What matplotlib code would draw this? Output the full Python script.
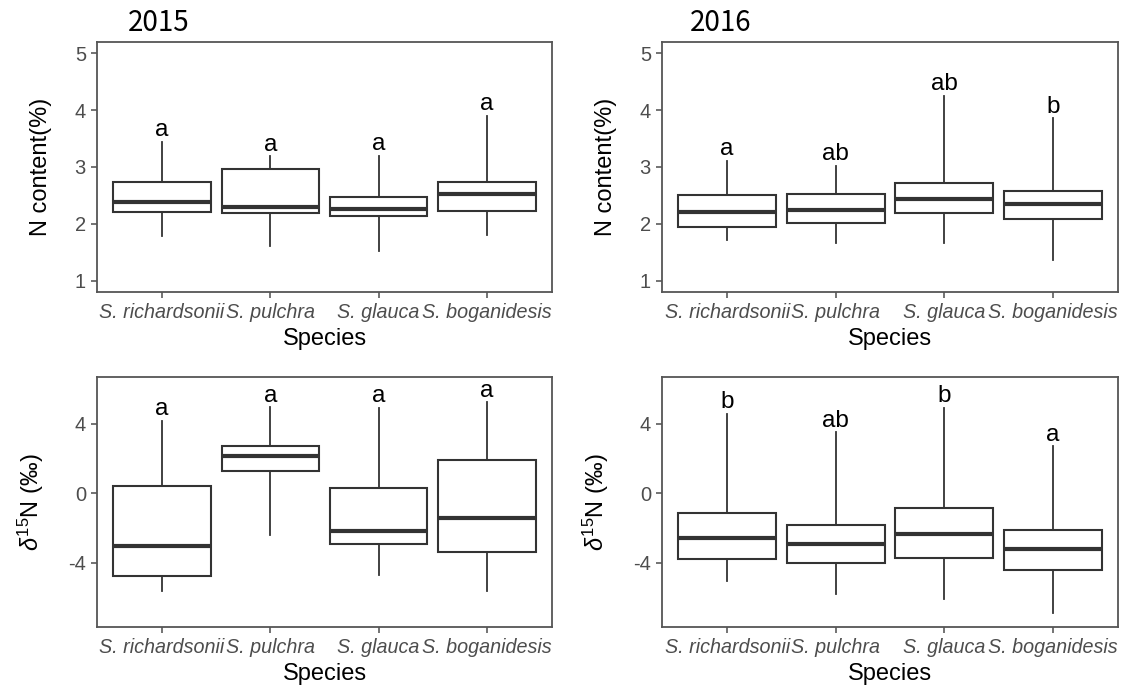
import matplotlib
matplotlib.use("Agg")
import matplotlib.pyplot as plt

plt.rcParams['font.family'] = ['Liberation Sans', 'DejaVu Sans']
plt.rcParams['mathtext.fontset'] = 'custom'
plt.rcParams['mathtext.rm'] = 'Liberation Sans'
plt.rcParams['mathtext.it'] = 'Liberation Sans:italic'
plt.rcParams['axes.unicode_minus'] = False

species = ['S. richardsonii', 'S. pulchra', 'S. glauca', 'S. boganidesis']

# box stats per species: whisker low, Q1, median, Q3, whisker high
n_2015_low = [1.79, 1.61, 1.53, 1.80]
n_2015_q1 = [2.20, 2.19, 2.13, 2.23]
n_2015_med = [2.39, 2.29, 2.26, 2.53]
n_2015_q3 = [2.74, 2.97, 2.47, 2.73]
n_2015_high = [3.44, 3.19, 3.20, 3.90]
n_2015_letters = ['a', 'a', 'a', 'a']

n_2016_low = [1.71, 1.67, 1.67, 1.37]
n_2016_q1 = [1.94, 2.01, 2.19, 2.09]
n_2016_med = [2.20, 2.24, 2.44, 2.35]
n_2016_q3 = [2.50, 2.52, 2.72, 2.57]
n_2016_high = [3.11, 3.02, 4.25, 3.86]
n_2016_letters = ['a', 'ab', 'ab', 'b']

d15_2015_low = [-5.62, -2.38, -4.69, -5.62]
d15_2015_q1 = [-4.75, 1.27, -2.92, -3.40]
d15_2015_med = [-3.04, 2.13, -2.17, -1.44]
d15_2015_q3 = [0.40, 2.73, 0.29, 1.94]
d15_2015_high = [4.19, 4.96, 4.92, 5.25]
d15_2015_letters = ['a', 'a', 'a', 'a']

d15_2016_low = [-5.04, -5.81, -6.10, -6.92]
d15_2016_q1 = [-3.79, -4.02, -3.75, -4.40]
d15_2016_med = [-2.60, -2.90, -2.37, -3.19]
d15_2016_q3 = [-1.12, -1.81, -0.83, -2.12]
d15_2016_high = [4.58, 3.52, 4.92, 2.71]
d15_2016_letters = ['b', 'ab', 'b', 'a']

n_ticks = [1, 2, 3, 4, 5]
d15_ticks = [-4, 0, 4]

W, H = 1124, 693
fig = plt.figure(figsize=(W / 100, H / 100), dpi=100)
fig.patch.set_facecolor('white')

edge = '#333333'
frame = '#555555'
tickc = '#4D4D4D'


def make_axes(x0, y0, x1, y1):
    return fig.add_axes([x0 / W, 1 - y1 / H, (x1 - x0) / W, (y1 - y0) / H])


def draw_panel(ax, low, q1, med, q3, high, letters, ylim, yticks, ylabel):
    stats = []
    for i in range(len(species)):
        stats.append(dict(whislo=low[i], q1=q1[i], med=med[i], q3=q3[i],
                          whishi=high[i], fliers=[], label=species[i]))
    pos = list(range(1, len(species) + 1))
    ax.bxp(stats, positions=pos, widths=0.9, showfliers=False, showcaps=False,
           patch_artist=True,
           boxprops=dict(facecolor='white', edgecolor=edge, linewidth=1.5),
           medianprops=dict(color=edge, linewidth=3.0, solid_capstyle='butt'),
           whiskerprops=dict(color=edge, linewidth=1.3))
    for i, lab in enumerate(letters):
        ax.annotate(lab, (pos[i], high[i]), xytext=(0, 4), textcoords='offset points',
                    ha='center', va='baseline', fontsize=17.5, color='black')
    ax.set_xlim(0.4, len(species) + 0.6)
    ax.set_ylim(*ylim)
    ax.set_yticks(yticks)
    ax.set_xticks(pos)
    ax.set_xticklabels(species, style='italic', fontsize=14.2, color=tickc)
    ax.tick_params(axis='y', labelsize=14.5, labelcolor=tickc)
    ax.tick_params(direction='out', length=4.5, width=1.1, color=tickc, pad=3.5)
    for s in ax.spines.values():
        s.set_color(frame)
        s.set_linewidth(1.3)
    ax.set_xlabel('Species', fontsize=17, labelpad=4)
    ax.set_ylabel(ylabel, fontsize=17, labelpad=16)


d15_label = r'$\delta^{15}$N (‰)'

ax1 = make_axes(97, 42, 552, 292)
draw_panel(ax1, n_2015_low, n_2015_q1, n_2015_med, n_2015_q3, n_2015_high,
           n_2015_letters, (0.8, 5.2), n_ticks, 'N content(%)')
ax2 = make_axes(662, 42, 1118, 292)
draw_panel(ax2, n_2016_low, n_2016_q1, n_2016_med, n_2016_q3, n_2016_high,
           n_2016_letters, (0.8, 5.2), n_ticks, 'N content(%)')
ax3 = make_axes(97, 377, 552, 627)
draw_panel(ax3, d15_2015_low, d15_2015_q1, d15_2015_med, d15_2015_q3, d15_2015_high,
           d15_2015_letters, (-7.7, 6.7), d15_ticks, d15_label)
ax4 = make_axes(662, 377, 1118, 627)
draw_panel(ax4, d15_2016_low, d15_2016_q1, d15_2016_med, d15_2016_q3, d15_2016_high,
           d15_2016_letters, (-7.7, 6.7), d15_ticks, d15_label)

fig.text(128 / W, 1 - 23 / H, '2015', fontsize=20, va='center', ha='left',
         family=['Noto Sans CJK SC', 'DejaVu Sans'])
fig.text(690 / W, 1 - 23 / H, '2016', fontsize=20, va='center', ha='left',
         family=['Noto Sans CJK SC', 'DejaVu Sans'])

fig.savefig('out.png', dpi=100, facecolor='white')
